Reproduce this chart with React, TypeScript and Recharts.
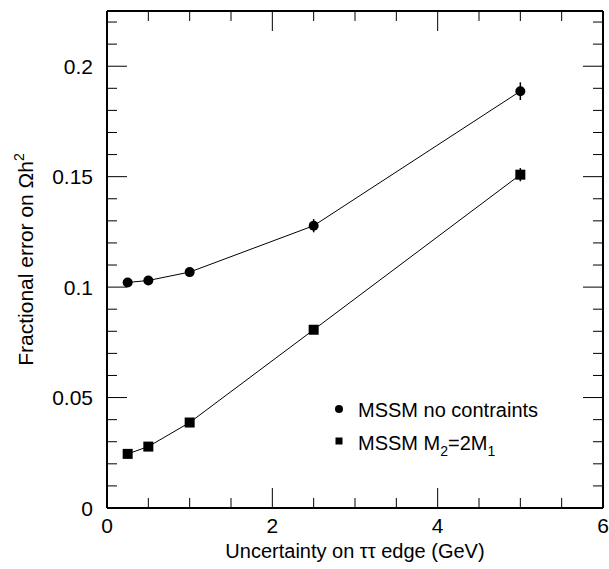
import React from "react";
import { ErrorBar, Legend, Line, LineChart, XAxis, YAxis } from "recharts";

// uncertainty on the tau-tau edge (GeV)
const edgeUncertainty = [0.25, 0.5, 1, 2.5, 5];
// fractional error on Omega h^2
const noConstraints = [0.1021, 0.103, 0.1068, 0.1278, 0.1887];
const noConstraintsErr = [0.001, 0.001, 0.001, 0.003, 0.004];
const m2Is2m1 = [0.0245, 0.0278, 0.0387, 0.0807, 0.1509];
const m2Is2m1Err = [0.001, 0.001, 0.001, 0.0015, 0.003];

const xTicks = [0, 0.5, 1, 1.5, 2, 2.5, 3, 3.5, 4, 4.5, 5, 5.5, 6];
const xLabels: Record<string, string> = { "0": "0", "2": "2", "4": "4", "6": "6" };
const yTicks = [
  0, 0.01, 0.02, 0.03, 0.04, 0.05, 0.06, 0.07, 0.08, 0.09, 0.1, 0.11, 0.12,
  0.13, 0.14, 0.15, 0.16, 0.17, 0.18, 0.19, 0.2, 0.21, 0.22,
];
const yLabels: Record<string, string> = {
  "0": "0",
  "0.05": "0.05",
  "0.1": "0.1",
  "0.15": "0.15",
  "0.2": "0.2",
};

const data = edgeUncertainty.map((x, i) => ({
  x,
  nc: noConstraints[i],
  ncErr: noConstraintsErr[i],
  m2: m2Is2m1[i],
  m2Err: m2Is2m1Err[i],
}));

const FONT = "'Liberation Sans', Arial, Helvetica, sans-serif";
const MINOR = 10;
const MAJOR = 20;

const isMajorX = (v: number) => Math.round(v * 10) % 20 === 0;
const isMajorY = (v: number) => Math.round(v * 100) % 5 === 0;

function BottomTick(props: any) {
  const { x, y, payload } = props;
  const v = payload.value;
  const len = isMajorX(v) ? MAJOR : MINOR;
  const label = xLabels[String(v)];
  return (
    <g>
      <line x1={x} y1={y} x2={x} y2={y - len} stroke="#000" strokeWidth={1} />
      {label && (
        <text x={x} y={y + 24.5} textAnchor="middle" fontSize={21} fontFamily={FONT} fill="#000">
          {label}
        </text>
      )}
    </g>
  );
}

function TopTick(props: any) {
  const { x, y, payload } = props;
  const len = isMajorX(payload.value) ? MAJOR : MINOR;
  return <line x1={x} y1={y} x2={x} y2={y + len} stroke="#000" strokeWidth={1} />;
}

function LeftTick(props: any) {
  const { x, y, payload } = props;
  const v = payload.value;
  const len = isMajorY(v) ? MAJOR : MINOR;
  const label = yLabels[String(v)];
  return (
    <g>
      <line x1={x} y1={y} x2={x + len} y2={y} stroke="#000" strokeWidth={1} />
      {label && (
        <text x={x - 14} y={y + 7.5} textAnchor="end" fontSize={21} fontFamily={FONT} fill="#000">
          {label}
        </text>
      )}
    </g>
  );
}

function RightTick(props: any) {
  const { x, y, payload } = props;
  const len = isMajorY(payload.value) ? MAJOR : MINOR;
  return <line x1={x} y1={y} x2={x - len} y2={y} stroke="#000" strokeWidth={1} />;
}

function YTitle(props: any) {
  const vb = props.viewBox || {};
  const cy = (vb.y ?? 11) + (vb.height ?? 497) / 2;
  const cx = 33;
  return (
    <text
      x={cx}
      y={cy}
      transform={`rotate(-90 ${cx} ${cy})`}
      textAnchor="middle"
      fontSize={21}
      fontFamily={FONT}
      fill="#000"
    >
      Fractional error on Ωh
      <tspan dy={-9} fontSize={14}>
        2
      </tspan>
    </text>
  );
}

function SquareDot(props: any) {
  const { cx, cy, index } = props;
  return <rect key={`sq-${index}`} x={cx - 5} y={cy - 5} width={10} height={10} fill="#000" />;
}

function LegendBox() {
  return (
    <svg width={270} height={70} style={{ display: "block" }}>
      <circle cx={9} cy={19} r={4} fill="#000" />
      <text x={28} y={26.5} fontSize={20} fontFamily={FONT} fill="#000">
        MSSM no contraints
      </text>
      <rect x={5.5} y={47.5} width={7} height={7} fill="#000" />
      <text x={28} y={60} fontSize={20} fontFamily={FONT} fill="#000">
        MSSM M
        <tspan dy={6} fontSize={14}>2</tspan>
        <tspan dy={-6}>=2M</tspan>
        <tspan dy={6} fontSize={14}>1</tspan>
      </text>
    </svg>
  );
}

export default function App() {
  return (
    <div style={{ position: "absolute", left: 0, top: 0, background: "#fff" }}>
      <LineChart width={609} height={569} data={data} margin={{ top: 10, right: 5, bottom: 0, left: 0 }}>
        <XAxis
          dataKey="x"
          type="number"
          domain={[0, 6]}
          ticks={xTicks}
          interval={0}
          height={61}
          tickSize={0}
          tickMargin={0}
          tickLine={false}
          tick={<BottomTick />}
          axisLine={{ stroke: "#000", strokeWidth: 2 }}
          allowDataOverflow
          label={{
            value: "Uncertainty on ττ edge (GeV)",
            position: "insideBottom",
            offset: 11,
            fontSize: 20,
            fontFamily: FONT,
            fill: "#000",
          }}
        />
        <XAxis
          xAxisId="top"
          dataKey="x"
          type="number"
          orientation="top"
          domain={[0, 6]}
          ticks={xTicks}
          interval={0}
          height={1}
          tickSize={0}
          tickMargin={0}
          tickLine={false}
          tick={<TopTick />}
          axisLine={{ stroke: "#000", strokeWidth: 2 }}
          allowDataOverflow
        />
        <YAxis
          type="number"
          domain={[0, 0.225]}
          ticks={yTicks}
          interval={0}
          width={107}
          tickSize={0}
          tickMargin={0}
          tickLine={false}
          tick={<LeftTick />}
          axisLine={{ stroke: "#000", strokeWidth: 2 }}
          allowDataOverflow
          label={<YTitle />}
        />
        <YAxis
          yAxisId="right"
          orientation="right"
          type="number"
          domain={[0, 0.225]}
          ticks={yTicks}
          interval={0}
          width={1}
          tickSize={0}
          tickMargin={0}
          tickLine={false}
          tick={<RightTick />}
          axisLine={{ stroke: "#000", strokeWidth: 2 }}
          allowDataOverflow
        />
        <Line
          dataKey="nc"
          name="MSSM no contraints"
          type="linear"
          stroke="#000"
          strokeWidth={1}
          dot={{ r: 5, fill: "#000", stroke: "none" }}
          activeDot={false}
          isAnimationActive={false}
        >
          <ErrorBar dataKey="ncErr" width={0} stroke="#000" strokeWidth={1.5} direction="y" />
        </Line>
        <Line
          dataKey="m2"
          name="MSSM M2=2M1"
          type="linear"
          stroke="#000"
          strokeWidth={1}
          dot={<SquareDot />}
          activeDot={false}
          isAnimationActive={false}
        >
          <ErrorBar dataKey="m2Err" width={0} stroke="#000" strokeWidth={1.5} direction="y" />
        </Line>
        <Legend
          layout="vertical"
          align="center"
          verticalAlign="middle"
          content={<LegendBox />}
          wrapperStyle={{ left: 330, top: 390, width: 270, height: 70 }}
        />
      </LineChart>
    </div>
  );
}
